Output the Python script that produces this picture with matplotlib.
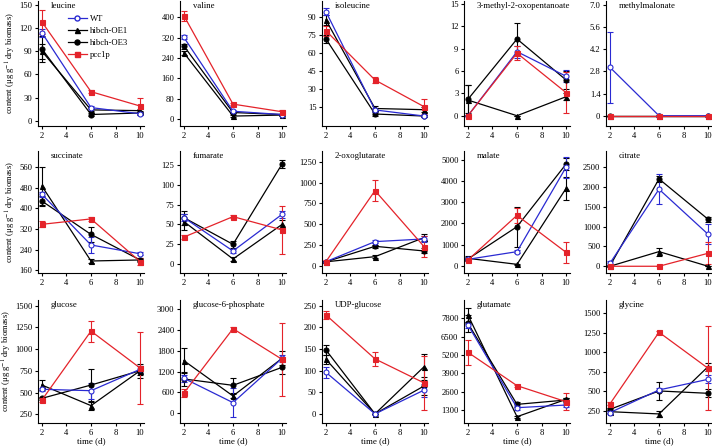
import numpy as np
import matplotlib
matplotlib.use('Agg')
import matplotlib.pyplot as plt
from matplotlib.lines import Line2D

plt.rcParams['font.family'] = ['Liberation Serif', 'DejaVu Serif']
plt.rcParams['mathtext.fontset'] = 'stix'

days = [2, 6, 10]

metabolites = ['leucine', 'valine', 'isoleucine', '3-methyl-2-oxopentanoate', 'methylmalonate',
               'succinate', 'fumarate', '2-oxoglutarate', 'malate', 'citrate',
               'glucose', 'glucose-6-phosphate', 'UDP-glucose', 'glutamate', 'glycine']

# mean values (day 2, 6, 10) and error bars, one row per metabolite
wt_mean = [[114, 17, 9], [321, 31, 18], [94.7, 12.8, 7.7], [0, 8.6, 5.3], [3.06, 0, 0],
           [454, 258, 224], [58.5, 16.4, 62.7], [52, 292, 324], [313, 674, 4650], [76, 1945, 808],
           [538, 522, 768], [1003, 299, 1582], [96, 0, 55], [7327, 1465, 1655], [229, 519, 655]]
wt_err = [[5, 2, 2], [8, 4, 3], [3, 2, 1], [0, 0.8, 0.8], [2.25, 0, 0],
          [10, 30, 5], [4, 3, 4], [10, 20, 40], [60, 80, 500], [60, 380, 250],
          [20, 90, 40], [100, 420, 100], [12, 0, 15], [200, 150, 150], [20, 30, 50]]

oe1_mean = [[90, 14, 13], [260, 12, 16], [87.8, 14, 13], [2.1, 0, 2.55], [0, 0, 0],
            [486, 196, 200], [53.5, 6.3, 50], [50, 112, 340], [360, 78, 3651], [0, 370, 0],
            [587, 350, 752], [1514, 492, 1582], [126, 0, 109], [8036, 827, 2056], [241, 212, 817]]
oe1_err = [[10, 2, 2], [8, 3, 3], [4, 2, 2], [2, 0, 0.5], [0, 0, 0],
           [75, 8, 5], [10, 2, 5], [10, 20, 40], [100, 30, 550], [0, 100, 0],
           [60, 50, 50], [360, 60, 200], [10, 0, 30], [500, 80, 100], [20, 40, 50]]

oe3_mean = [[93, 8, 10], [287, 26, 18], [72, 9.4, 7.7], [2.2, 10.3, 4.8], [0, 0, 0],
            [428, 299, 200], [58.5, 24.8, 126.3], [50, 236, 180], [329, 1849, 4795], [8, 2205, 1187],
            [434, 587, 752], [984, 800, 1321], [147.7, 0, 64.6], [7445, 1702, 2009], [271, 506, 476]]
oe3_err = [[17, 2, 2], [10, 3, 3], [3, 2, 1], [1.9, 2.2, 1.2], [0, 0, 0],
           [20, 30, 8], [9, 4, 5], [10, 20, 30], [80, 940, 300], [20, 80, 60],
           [20, 190, 80], [200, 220, 200], [12, 0, 20], [600, 200, 150], [20, 120, 50]]

pcc_mean = [[128, 37.6, 19], [406, 59, 29], [78.8, 37.75, 15.5], [0, 8.4, 3.1], [0, 0, 0],
            [338, 359, 194], [34, 59.8, 43], [52, 903, 232], [282, 2382, 642], [0, 0, 328],
            [415, 1208, 783], [579, 2440, 1553], [228.5, 127, 71.5], [5390, 3026, 1891], [340, 1257, 796]]
pcc_err = [[15, 2, 10], [20, 5, 8], [4, 2.5, 6], [0, 0.9, 2.8], [0, 0, 0],
           [12, 8, 15], [2, 2, 30], [15, 130, 130], [60, 350, 480], [0, 0, 280],
           [20, 120, 410], [110, 40, 1050], [10, 17, 63], [900, 80, 600], [20, 20, 540]]

# y tick start, stop, step
y_ticks = [(0, 150, 30), (0, 400, 80), (15, 90, 15), (0, 15, 3), (0, 7, 1.4),
           (160, 560, 80), (0, 125, 25), (0, 1250, 250), (0, 5000, 1000), (0, 2500, 500),
           (250, 1500, 250), (0, 3000, 600), (0, 250, 50), (1300, 7800, 1300), (250, 1500, 250)]
y_lims = [(-6.9, 155.2), (-27, 464), (-0.6, 103.6), (-1.38, 15.4), (-0.65, 7.25),
          (149.5, 622), (-11.4, 142.7), (-84, 1378), (-330, 5410), (-170, 2910),
          (150, 1566), (-290, 3270), (-21, 263), (380, 9100), (96, 1670)]

blue = '#2a2ad2'
red = '#e4232a'

W, H = 712, 447
fig = plt.figure(figsize=(W / 100, H / 100), dpi=100)

col_left = [38, 180, 322, 464, 606]
row_span = [(1, 126), (151, 273), (300, 423)]
ax_w = 106

series = [
    ('hibch-OE1', oe1_mean, oe1_err, 'black', '^', 'black'),
    ('hibch-OE3', oe3_mean, oe3_err, 'black', 'o', 'black'),
    ('WT', wt_mean, wt_err, blue, 'o', 'white'),
    ('pcc1p', pcc_mean, pcc_err, red, 's', red),
]

for i, name in enumerate(metabolites):
    r, c = divmod(i, 5)
    top, bot = row_span[r]
    ax = fig.add_axes([col_left[c] / W, 1 - bot / H, ax_w / W, (bot - top) / H])
    for lab, m, e, col, mk, fc in series:
        ax.errorbar(days, m[i], yerr=e[i], color=col, marker=mk, mfc=fc, mec=col,
                    ms=3.6, mew=0.8, lw=0.9, elinewidth=0.8, capsize=2, capthick=0.8)
    ax.set_xlim(1.68, 10.32)
    ax.set_ylim(*y_lims[i])
    ax.set_xticks([2, 4, 6, 8, 10])
    a, b, s = y_ticks[i]
    ticks = np.arange(a, b + s / 2, s)
    ax.set_yticks(ticks)
    if name == 'methylmalonate':
        ax.set_yticklabels(['0' if t == 0 else '%.1f' % t for t in ticks])
    else:
        ax.set_yticklabels(['%d' % round(t) for t in ticks])
    ax.spines['top'].set_visible(False)
    ax.spines['right'].set_visible(False)
    ax.spines['left'].set_linewidth(0.8)
    ax.spines['bottom'].set_linewidth(0.8)
    ax.tick_params(labelsize=6.2, length=2.5, width=0.8, pad=1.5)
    ax.text(0.12, 0.96, name, transform=ax.transAxes, fontsize=6.3, va='center', ha='left')
    if c == 0:
        ax.set_ylabel('content (μg g$^{-1}$ dry biomass)', fontsize=6.2, labelpad=1)
    if r == 2:
        ax.set_xlabel('time (d)', fontsize=6.5, labelpad=0.5)
    if i == 0:
        handles = [Line2D([], [], color=blue, marker='o', mfc='white', ms=3.6, lw=0.9),
                   Line2D([], [], color='black', marker='^', ms=3.6, lw=0.9),
                   Line2D([], [], color='black', marker='o', ms=3.6, lw=0.9),
                   Line2D([], [], color=red, marker='s', ms=3.6, lw=0.9)]
        ax.legend(handles, ['WT', 'hibch-OE1', 'hibch-OE3', 'pcc1p'], loc='upper left',
                  bbox_to_anchor=(0.24, 0.92), frameon=False, fontsize=6.2,
                  handlelength=2.2, handletextpad=0.4, labelspacing=0.45, borderpad=0)

fig.savefig('out.png', dpi=100)
